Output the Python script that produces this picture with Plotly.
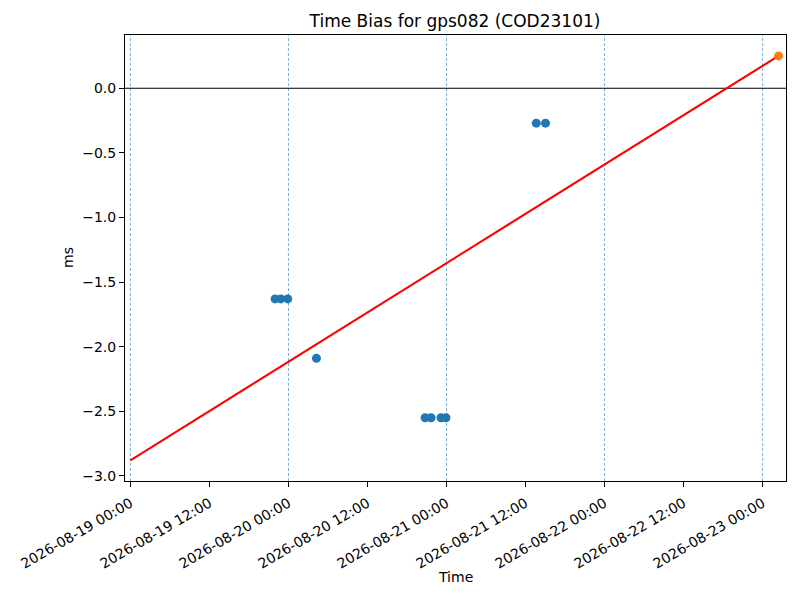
import plotly.graph_objects as go

# observed time bias samples (blue)
obs_times = ["2026-08-19 21:58", "2026-08-19 22:50", "2026-08-19 23:54",
             "2026-08-20 04:15",
             "2026-08-20 20:45", "2026-08-20 21:40", "2026-08-20 23:10", "2026-08-20 23:55",
             "2026-08-21 13:38", "2026-08-21 15:02"]
obs_bias = [-1.63, -1.63, -1.63, -2.09, -2.55, -2.55, -2.55, -2.55, -0.27, -0.27]

# predicted point (orange) and fit line (red)
pred_time = ["2026-08-23 02:25"]
pred_bias = [0.25]
fit_times = ["2026-08-19 00:00", "2026-08-23 02:25"]
fit_bias = [-2.88, 0.25]

day_lines = ["2026-08-19", "2026-08-20", "2026-08-21", "2026-08-22", "2026-08-23"]
y_ticks = [-3.0, -2.5, -2.0, -1.5, -1.0, -0.5, 0.0]

font = "DejaVu Sans"

fig = go.Figure()

fig.add_trace(go.Scatter(x=fit_times, y=fit_bias, mode="lines",
                         line=dict(color="red", width=2), showlegend=False))
fig.add_trace(go.Scatter(x=obs_times, y=obs_bias, mode="markers",
                         marker=dict(color="#1f77b4", size=9), showlegend=False))
fig.add_trace(go.Scatter(x=pred_time, y=pred_bias, mode="markers",
                         marker=dict(color="#ff7f0e", size=9), showlegend=False))

for d in day_lines:
    fig.add_vline(x=d, line=dict(color="#1f77b4", width=0.6, dash="3px,2px"), layer="below")
fig.add_hline(y=0, line=dict(color="black", width=1), layer="below")

# page has an 8px body margin, so the figure is a bit smaller than the window
fig.update_layout(
    width=792, height=592,
    paper_bgcolor="white", plot_bgcolor="white",
    margin=dict(l=117, r=14, t=27, b=119),
    font=dict(family=font, size=14, color="black"),
    title=dict(text="Time Bias for gps082 (COD23101)", x=447 / 792, xanchor="center",
               y=1 - 13 / 592, yanchor="middle", font=dict(size=17)),
    annotations=[
        dict(text="Time", xref="paper", yref="paper", x=0.5, y=-96 / 446,
             xanchor="center", yanchor="middle", showarrow=False, font=dict(size=14)),
        dict(text="ms", xref="paper", yref="paper", x=-57 / 661, y=0.5, textangle=-90,
             xanchor="center", yanchor="middle", showarrow=False, font=dict(size=14)),
    ],
)

fig.update_xaxes(
    type="date", range=["2026-08-18 23:11", "2026-08-23 03:33"], automargin=False,
    tick0="2026-08-19", dtick=12 * 3600 * 1000, tickformat="%Y-%m-%d %H:%M",
    tickangle=-30, ticks="outside", ticklen=5, tickcolor="black", ticklabelstandoff=3,
    showgrid=False, zeroline=False,
    showline=True, linecolor="black", linewidth=1, mirror=True,
)
fig.update_yaxes(
    range=[-3.039, 0.412], tickvals=y_ticks, tickformat=".1f", automargin=False,
    ticks="outside", ticklen=5, tickcolor="black",
    showgrid=False, zeroline=False,
    showline=True, linecolor="black", linewidth=1, mirror=True,
)

fig.write_html("out.html")
